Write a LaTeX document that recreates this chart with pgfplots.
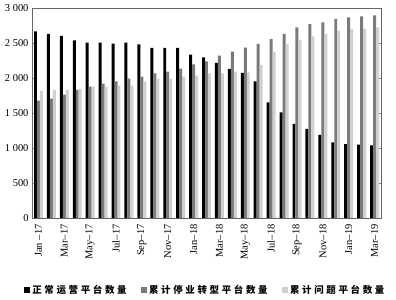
\documentclass[border=0pt]{standalone}
\usepackage{pgfplots}
\pgfplotsset{compat=1.18}
\usepackage{fontspec}
\setmainfont{Liberation Serif}
\newfontfamily\cjk[LetterSpace=28]{Noto Sans CJK SC}
\definecolor{dgray}{HTML}{7A7A7A}
\definecolor{lgray}{HTML}{D0D0D0}
\pgfplotstableread{
i a b c
0 2667 1677 1820
1 2629 1705 1829
2 2600 1762 1829
3 2538 1829 1843
4 2505 1876 1876
5 2505 1919 1876
6 2490 1953 1890
7 2505 1990 1890
8 2481 2019 1948
9 2429 2067 1986
10 2429 2090 1986
11 2429 2133 2019
12 2334 2195 2033
13 2295 2238 2067
14 2215 2319 2067
15 2129 2376 2090
16 2072 2433 2081
17 1953 2486 2186
18 1653 2557 2376
19 1510 2629 2481
20 1343 2724 2548
21 1272 2771 2595
22 1186 2795 2629
23 1082 2843 2676
24 1057 2867 2700
25 1048 2881 2700
26 1038 2895 2724
}\data
\begin{document}
\begin{tikzpicture}
\begin{axis}[
  name=ax,
  scale only axis,
  width=349bp, height=210bp,
  xmin=-0.5, xmax=26.5,
  ymin=0, ymax=3000,
  ytick={0,500,...,3000},
  /pgf/number format/1000 sep={\ },
  /pgf/number format/assume math mode=true,
  xtick={0,2,...,26},
  xticklabels={Jan\ --17,Mar--17,May--17,Jul--17,Sep--17,Nov--17,Jan--18,Mar--18,May--18,Jul--18,Sep--18,Nov--18,Jan--19,Mar--19},
  xticklabel style={rotate=90, anchor=east, font=\fontsize{10.5}{12}\selectfont},
  yticklabel style={font=\fontsize{10.5}{12}\selectfont},
  major x tick style={draw=none},
  extra x ticks={1.5,3.5,...,25.5},
  extra x tick labels={},
  extra x tick style={major tick length=3bp, tick align=inside, tick style={draw=black}},
  ytick align=inside,
  major tick length=3bp,
  axis line style={draw=gray!80!black},
  ybar, bar width=0.23,
  legend columns=3,
  legend style={draw=none, at={(0.496,-0.343)}, anchor=center, font=\cjk\bfseries\fontsize{9.5}{11}\selectfont,
    inner sep=0pt,
    /tikz/every even column/.append style={column sep=12bp}},
  legend image code/.code={\fill[#1] (0bp,-3.3bp) rectangle (6.5bp,3.3bp);},
]
\addplot[fill=black, draw=none, bar shift=-0.23] table[x=i,y=a]{\data};
\addplot[fill=dgray, draw=none, bar shift=0] table[x=i,y=b]{\data};
\addplot[fill=lgray, draw=none, bar shift=0.23] table[x=i,y=c]{\data};
\legend{正常运营平台数量,累计停业转型平台数量,累计问题平台数量}
\end{axis}
\pgfresetboundingbox
\path[use as bounding box] ([shift={(-32bp,-82bp)}]ax.south west) rectangle ([shift={(15bp,8bp)}]ax.north east);
\end{tikzpicture}
\end{document}
